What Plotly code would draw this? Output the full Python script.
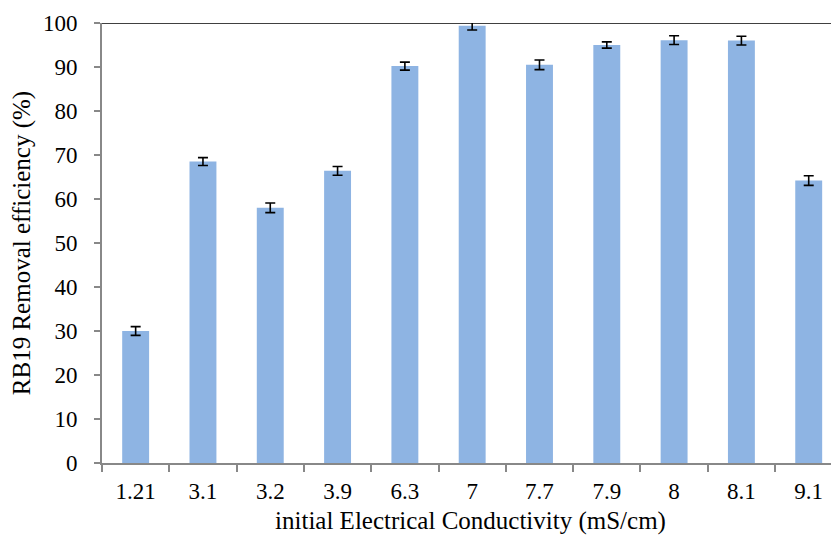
import plotly.graph_objects as go

categories = ["1.21", "3.1", "3.2", "3.9", "6.3", "7", "7.7", "7.9", "8", "8.1", "9.1"]
removal = [30.0, 68.5, 58.0, 66.4, 90.2, 99.4, 90.5, 95.0, 96.1, 96.0, 64.2]
errors = [1.0, 0.9, 1.1, 1.0, 0.9, 1.0, 1.1, 0.7, 1.0, 1.0, 1.1]
y_ticks = list(range(0, 101, 10))

font_family = "Liberation Serif, Times New Roman, serif"

fig = go.Figure()
fig.add_trace(go.Bar(
    x=categories,
    y=removal,
    width=0.4,
    marker=dict(color="#8EB4E3", line=dict(width=0)),
    error_y=dict(type="data", array=errors, visible=True,
                 color="black", thickness=1.6, width=5),
))

fig.add_shape(type="line", xref="paper", x0=0, x1=1, yref="y", y0=100, y1=100,
              line=dict(color="black", width=1.5), layer="above")

# page has an 8px body margin; figure is sized/offset to compensate
fig.update_layout(
    width=831, height=536,
    margin=dict(l=94, r=0, t=15, b=81, autoexpand=False),
    paper_bgcolor="white", plot_bgcolor="white",
    showlegend=False,
    font=dict(family=font_family, size=23, color="black"),
)
fig.update_xaxes(
    type="category",
    range=[-0.5, 10.45],
    showline=True, linecolor="#888888", linewidth=2,
    ticks="outside", tickson="boundaries", ticklen=7, tickwidth=2, tickcolor="#888888",
    showgrid=False, zeroline=False,
    tickfont=dict(size=23),
    ticklabelstandoff=6,
    automargin=False,
    title=dict(text="initial Electrical Conductivity (mS/cm)", font=dict(size=25), standoff=9),
)
fig.update_yaxes(
    range=[0, 100],
    tickvals=y_ticks,
    showline=True, linecolor="#888888", linewidth=2,
    ticks="outside", ticklen=6, tickwidth=2, tickcolor="#888888",
    showgrid=False, zeroline=False,
    tickfont=dict(size=23),
    ticklabelstandoff=12,
    automargin=False,
    title=dict(text="RB19 Removal efficiency (%)", font=dict(size=25), standoff=10),
)

fig.write_html("out.html")
